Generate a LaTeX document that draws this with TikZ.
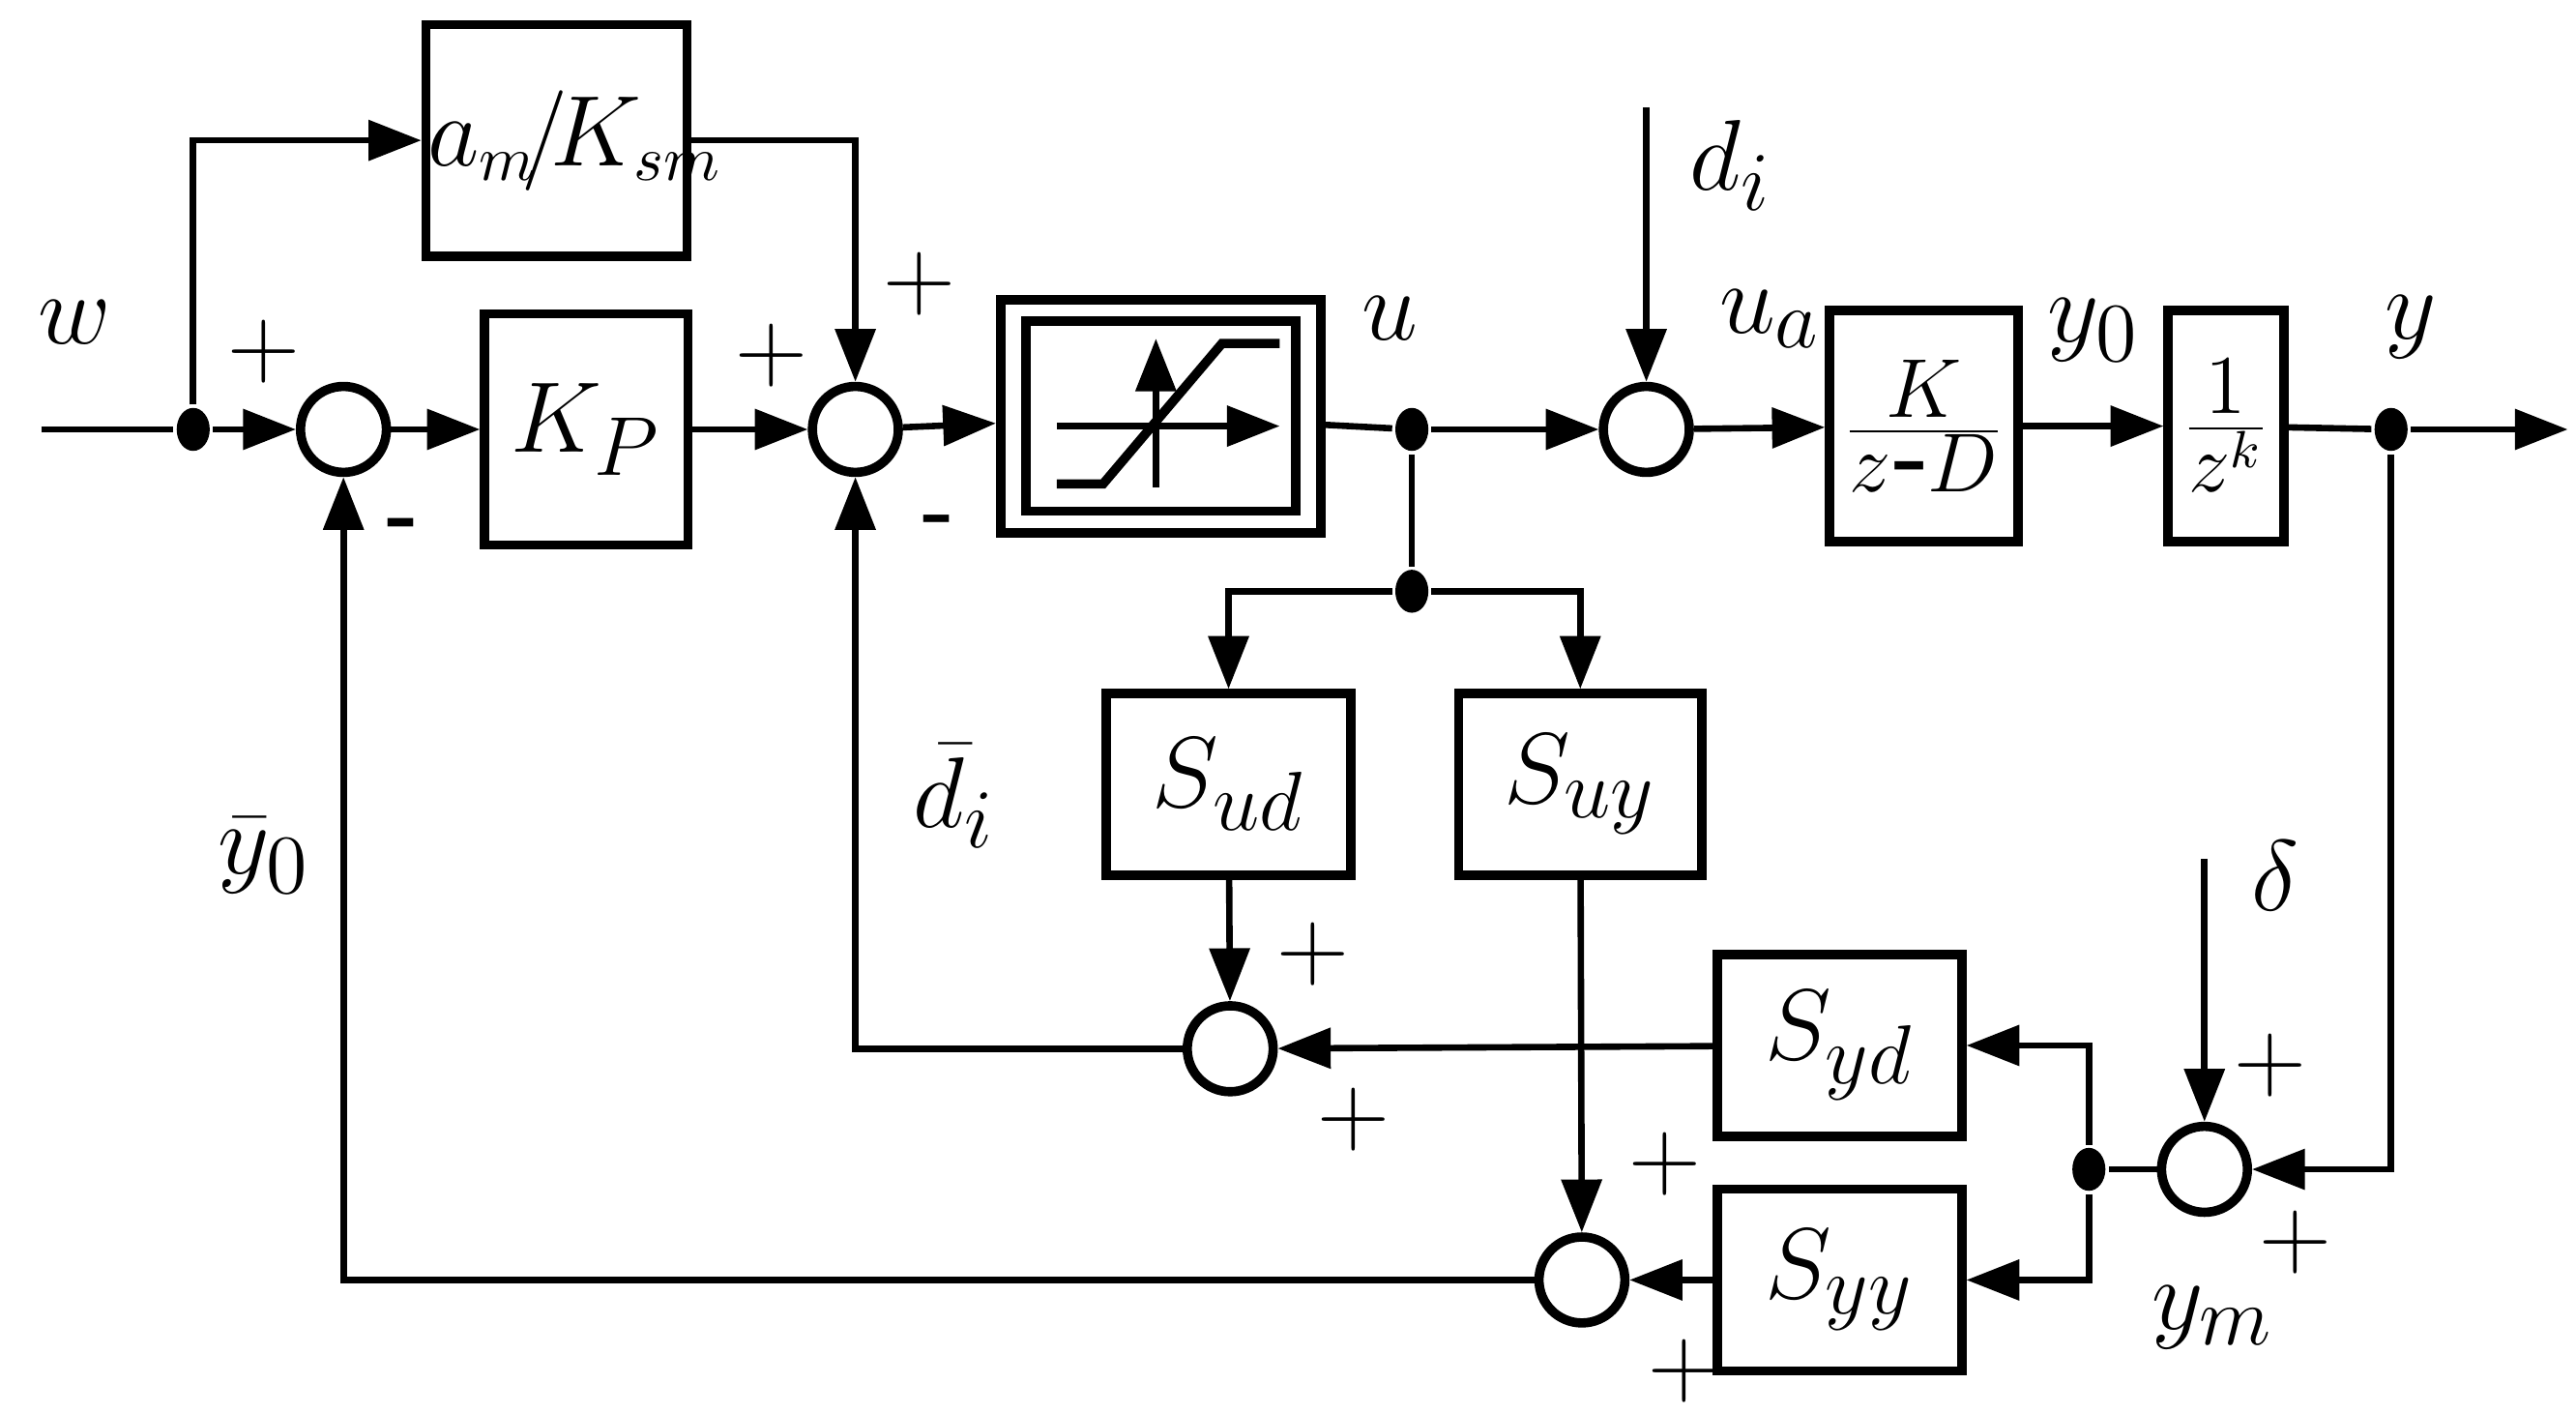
\documentclass[tikz,border=0pt]{standalone}
\usepackage{fontspec}
\setmainfont{Liberation Serif}
\usetikzlibrary{arrows.meta,shapes.geometric}
\begin{document}
\begin{tikzpicture}[x=0.01cm,y=-0.01cm,line width=1.1pt,
    >={Triangle[length=0.32cm,width=0.24cm]}, every node/.style={font=\fontsize{19}{22}\selectfont}]
  \tikzstyle{sum} = [draw, circle, line width=1.6pt, minimum size=0.52cm, inner sep=0]
  \tikzstyle{blk} = [draw, line width=1.6pt, inner sep=0]
  \tikzstyle{dot} = [fill, ellipse, minimum width=0.2cm, minimum height=0.26cm, inner sep=0]
  \tikzstyle{sgn} = [font=\fontsize{17}{20}\selectfont]
  \useasboundingbox (0,0) rectangle (1560,855);
  % blocks
  \node [blk,minimum width=1.58cm,minimum height=1.4cm,text width=1.56cm,align=center,font=\fontsize{16}{19}\selectfont] (am) at (337,85) {$a_m\!/\!K_{sm}$};
  \node [blk,minimum width=1.23cm,minimum height=1.4cm] (kp) at (355,260) {$K_P$};
  \node [blk,minimum width=1.94cm,minimum height=1.41cm] (sat) at (703,252) {};
  \node [blk,minimum width=1.63cm,minimum height=1.15cm] at (703,252) {};
  \node [blk,minimum width=1.14cm,minimum height=1.4cm] (pl) at (1165,258) {$\frac{\;K\;}{z\mbox{-}D}$};
  \node [blk,minimum width=0.7cm,minimum height=1.4cm] (dl) at (1348,258) {$\frac{1}{z^k}$};
  \node [blk,minimum width=1.48cm,minimum height=1.1cm] (sud) at (744,475) {$S_{ud}$};
  \node [blk,minimum width=1.47cm,minimum height=1.1cm] (suy) at (957,475) {$S_{uy}$};
  \node [blk,minimum width=1.48cm,minimum height=1.1cm] (syd) at (1114,633) {$S_{yd}$};
  \node [blk,minimum width=1.48cm,minimum height=1.1cm] (syy) at (1114,775) {$S_{yy}$};
  % sums
  \node [sum] (s1) at (208,260) {};
  \node [sum] (s2) at (518,260) {};
  \node [sum] (s3) at (997,260) {};
  \node [sum] (s4) at (745,635) {};
  \node [sum] (s5) at (958,775) {};
  \node [sum] (s6) at (1335,708) {};
  % junctions
  \node [dot] (jw) at (117,260) {};
  \node [dot] (ju) at (855,260) {};
  \node [dot] (jb) at (855,358) {};
  \node [dot] (jy) at (1448,260) {};
  \node [dot] (jm) at (1265,708) {};
  \coordinate (win) at (25,260);
  \coordinate (yout) at (1555,260);
  \coordinate (din) at (997,65);
  \coordinate (dlt) at (1335,520);
  % saturation sketch
  \draw [->,line width=1.2pt] (640,258) -- (775,258);
  \draw [->,line width=1.2pt] (700,295) -- (700,205);
  \draw [line width=1.6pt] (640,293) -- (668,293) -- (740,208) -- (775,208);
  % forward path
  \draw (win) -- (jw);
  \draw [->] (jw) -- (s1);
  \draw [->] (jw) |- (am);
  \draw [->] (am.east) -| (s2);
  \draw [->] (s1) -- (kp);
  \draw [->] (kp) -- (s2);
  \draw [->] (s2) -- (sat);
  \draw (sat) -- (ju);
  \draw [->] (ju) -- (s3);
  \draw [->] (din) -- (s3);
  \draw [->] (s3) -- (pl);
  \draw [->] (pl) -- (dl);
  \draw (dl) -- (jy);
  \draw [->] (jy) -- (yout);
  % sensitivity branches
  \draw (ju) -- (jb);
  \draw [->] (jb) -| (sud);
  \draw [->] (jb) -| (suy);
  \draw [->] (sud) -- (s4);
  \draw [->] (suy) -- (s5);
  \draw [->] (jy) |- (s6);
  \draw [->] (dlt) -- (s6);
  \draw (s6) -- (jm);
  \draw [->] (jm) |- (syd);
  \draw [->] (jm) |- (syy);
  \draw [->] (syd) -- (s4);
  \draw [->] (syy) -- (s5);
  \draw [->] (s4) -| (s2);
  \draw [->] (s5) -| (s1);
  % labels
  \node at (45,195) {$w$};
  \node at (842,193) {$u$};
  \node at (1048,100) {$d_i$};
  \node at (1072,193) {$u_a$};
  \node at (1268,200) {$y_0$};
  \node at (1460,198) {$y$};
  \node at (578,482) {$\bar{d}_i$};
  \node at (160,518) {$\bar{y}_0$};
  \node at (1378,530) {$\delta$};
  \node at (1340,798) {$y_m$};
  \node [sgn] at (160,213) {$+$};
  \node [sgn] at (243,322) {\textbf{-}};
  \node [sgn] at (467,215) {$+$};
  \node [sgn] at (557,172) {$+$};
  \node [sgn] at (567,320) {-};
  \node [sgn] at (795,578) {$+$};
  \node [sgn] at (820,678) {$+$};
  \node [sgn] at (1008,705) {$+$};
  \node [sgn] at (1020,830) {$+$};
  \node [sgn] at (1375,645) {$+$};
  \node [sgn] at (1390,752) {$+$};
\end{tikzpicture}
\end{document}
